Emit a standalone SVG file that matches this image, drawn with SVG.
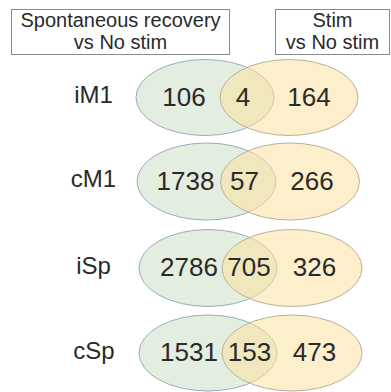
<svg xmlns="http://www.w3.org/2000/svg" width="391" height="392" viewBox="0 0 391 392">
<style>
.box{fill:#fff;stroke:#8a8a8a;stroke-width:1}
.hd{font-family:"Liberation Sans",Arial,sans-serif;font-size:20px;fill:#2a2a2a;text-anchor:middle}
.lab{font-family:"Liberation Sans",Arial,sans-serif;font-size:24px;fill:#2a2a2a;text-anchor:middle}
.num{font-family:"Liberation Sans",Arial,sans-serif;font-size:26px;fill:#2a2a2a;text-anchor:middle}
.g{fill:#e4eee0;stroke:#98adbb;stroke-width:1}
.o{fill:#fce1a0;fill-opacity:0.55;stroke:#b9b09c;stroke-width:1}
</style>
<rect width="391" height="392" fill="#fff"/>
<g id="header-left">
<rect class="box" x="11.5" y="9.5" width="218" height="45"/>
<text class="hd" x="120.5" y="27">Spontaneous recovery</text>
<text class="hd" x="120.5" y="49">vs No stim</text>
</g>
<g id="header-right">
<rect class="box" x="275.5" y="9.5" width="114" height="45"/>
<text class="hd" x="332.5" y="27">Stim</text>
<text class="hd" x="332.5" y="49">vs No stim</text>
</g>
<g id="iM1">
<text class="lab" x="93.5" y="103">iM1</text>
<ellipse class="g" cx="205" cy="97.5" rx="69" ry="38"/>
<ellipse class="o" cx="289" cy="97.5" rx="69" ry="38"/>
<text class="num" x="184" y="106">106</text>
<text class="num" x="243" y="106">4</text>
<text class="num" x="309" y="106">164</text>
</g>
<g id="cM1">
<text class="lab" x="93.5" y="187">cM1</text>
<ellipse class="g" cx="206.5" cy="181.5" rx="69.5" ry="38.5"/>
<ellipse class="o" cx="290" cy="181.5" rx="69.5" ry="38.5"/>
<text class="num" x="185.5" y="190">1738</text>
<text class="num" x="244.5" y="190">57</text>
<text class="num" x="312" y="190">266</text>
</g>
<g id="iSp">
<text class="lab" x="93.5" y="274">iSp</text>
<ellipse class="g" cx="208" cy="268" rx="69" ry="38.5"/>
<ellipse class="o" cx="292" cy="268" rx="70" ry="38.5"/>
<text class="num" x="189" y="276">2786</text>
<text class="num" x="249" y="276">705</text>
<text class="num" x="314.5" y="276">326</text>
</g>
<g id="cSp">
<text class="lab" x="94" y="359">cSp</text>
<ellipse class="g" cx="208" cy="353" rx="69" ry="38"/>
<ellipse class="o" cx="292" cy="353" rx="70" ry="38"/>
<text class="num" x="189" y="361">1531</text>
<text class="num" x="249.5" y="361">153</text>
<text class="num" x="314.5" y="361">473</text>
</g>
<g id="connectors"></g>
</svg>
